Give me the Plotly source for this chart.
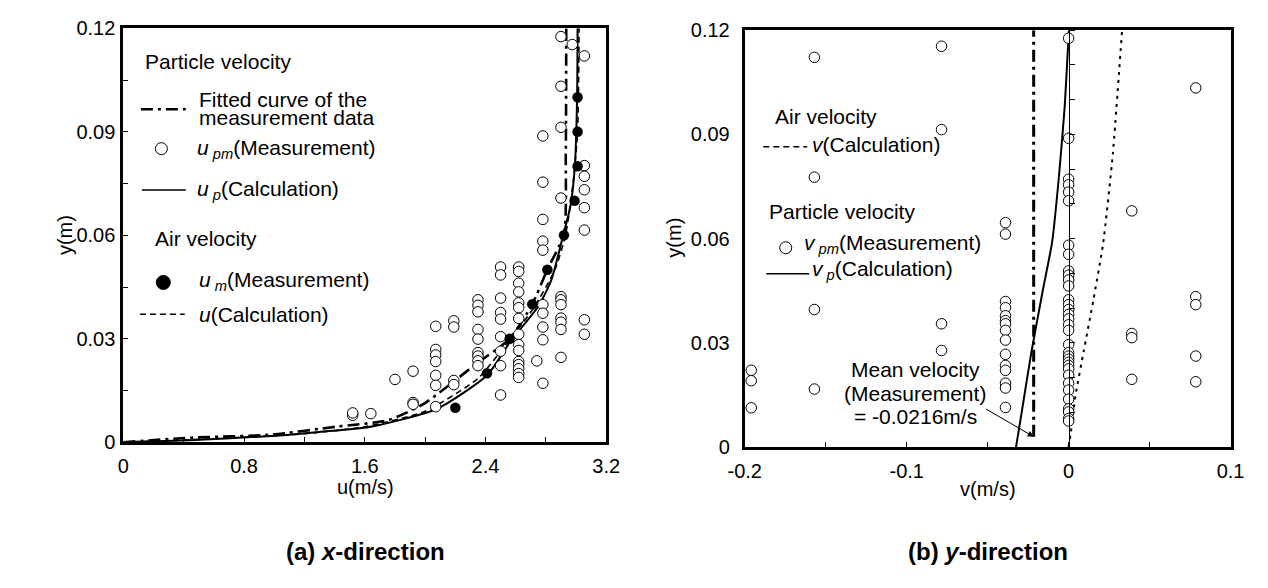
import plotly.graph_objects as go

W, H = 1268, 588

# ---------------- data: (a) x-direction ----------------
# particle velocity measurement u_pm (m/s) and height y (m)
upm_u = [1.52, 1.52, 1.64, 1.80, 1.92, 1.92, 1.92,
         2.07, 2.07, 2.07, 2.07, 2.07, 2.07, 2.07,
         2.19, 2.19, 2.19, 2.19,
         2.35, 2.35, 2.35, 2.35, 2.35, 2.35, 2.35, 2.35, 2.35,
         2.50, 2.50, 2.50, 2.50, 2.50, 2.50, 2.50, 2.50, 2.50,
         2.62, 2.62, 2.62, 2.62, 2.62, 2.62, 2.62, 2.62, 2.62, 2.62, 2.62, 2.62, 2.62, 2.62, 2.62,
         2.74,
         2.78, 2.78, 2.78, 2.78, 2.78, 2.78, 2.78, 2.78, 2.78, 2.78,
         2.90, 2.90, 2.90, 2.90, 2.90, 2.90, 2.90, 2.90, 2.90, 2.90, 2.90,
         2.975,
         3.055, 3.055, 3.055, 3.055, 3.055, 3.055, 3.055, 3.055]
upm_y = [0.0078, 0.0085, 0.0083, 0.0182, 0.0206, 0.0115, 0.0110,
         0.0336, 0.0269, 0.0253, 0.0234, 0.0194, 0.0165, 0.0103,
         0.0352, 0.0334, 0.0179, 0.0167,
         0.0413, 0.0397, 0.0378, 0.0327, 0.0299, 0.0260, 0.0250, 0.0236, 0.0222,
         0.0508, 0.0485, 0.0418, 0.0376, 0.0357, 0.0306, 0.0264, 0.0222, 0.0137,
         0.0508, 0.0495, 0.0461, 0.0436, 0.0404, 0.0390, 0.0359, 0.0313, 0.0283, 0.0266, 0.0234, 0.0225, 0.0213, 0.0199, 0.0188,
         0.0236,
         0.0888, 0.0754, 0.0646, 0.0583, 0.0557, 0.0399, 0.0374, 0.0334, 0.0297, 0.0171,
         0.1176, 0.1032, 0.0913, 0.0708, 0.0422, 0.0413, 0.0399, 0.0360, 0.0348, 0.0327, 0.0246,
         0.1153,
         0.1120, 0.0802, 0.0771, 0.0732, 0.0680, 0.0615, 0.0355, 0.0313]

# air velocity measurement u_m
um_u = [2.20, 2.41, 2.56, 2.71, 2.81, 2.92, 2.99, 3.01, 3.01, 3.01]
um_y = [0.01, 0.02, 0.03, 0.04, 0.05, 0.06, 0.07, 0.08, 0.09, 0.10]

# particle velocity calculation u_p
up_u = [0.0, 0.44, 0.98, 1.30, 1.63, 2.08, 2.41, 2.565, 2.75, 2.835, 2.915, 2.964, 2.992, 3.007, 3.010]
up_y = [0.0, 0.0006, 0.0018, 0.0030, 0.0044, 0.0097, 0.0194, 0.0292, 0.0394, 0.0469, 0.0600, 0.0687, 0.0800, 0.1000, 0.1200]

# air velocity calculation u
ua_u = [0.0, 0.60, 1.20, 1.60, 2.00, 2.35, 2.53, 2.72, 2.86, 2.93, 2.98, 3.01, 3.02]
ua_y = [0.0, 0.0010, 0.0025, 0.0045, 0.0090, 0.0185, 0.0280, 0.0390, 0.0500, 0.0600, 0.0750, 0.0900, 0.1200]

# fitted curve of the measurement data
fit_u = [0.0, 0.44, 0.98, 1.41, 1.755, 1.99, 2.338, 2.558, 2.709, 2.809, 2.920, 2.932, 2.935]
fit_y = [0.0, 0.0013, 0.0022, 0.0045, 0.0064, 0.0111, 0.0227, 0.0299, 0.0399, 0.0500, 0.0604, 0.0836, 0.1200]

# ---------------- data: (b) y-direction ----------------
vpm_v = ([-0.196] * 3 + [-0.157] * 4 + [-0.0785] * 4 + [-0.039] * 15 +
         [0.0] * 34 + [0.039] * 4 + [0.0785] * 5)
vpm_y = [0.0221, 0.0191, 0.0113,
         0.1122, 0.0777, 0.0396, 0.0167,
         0.1154, 0.0914, 0.0355, 0.0278,
         0.0646, 0.0613, 0.0419, 0.0401, 0.0378, 0.0364, 0.0355, 0.0336, 0.0308, 0.0267, 0.0235, 0.0221, 0.0184, 0.0170, 0.0114,
         0.1177, 0.0889, 0.0771, 0.0755, 0.0734, 0.0709, 0.0581, 0.0555, 0.0507, 0.0495, 0.0481, 0.0464, 0.0424, 0.0410,
         0.0396, 0.0382, 0.0369, 0.0352, 0.0336, 0.0295, 0.0272, 0.0262, 0.0253, 0.0244, 0.0235, 0.0225, 0.0207, 0.0184,
         0.0164, 0.0138, 0.0110, 0.0101, 0.0082, 0.0075,
         0.0680, 0.0327, 0.0315, 0.0195,
         0.1034, 0.0433, 0.0410, 0.0262, 0.0188]

# particle velocity calculation v_p
vp_v = [-0.0325, -0.0290, -0.0229, -0.0160, -0.0102, -0.0058, -0.0024, 0.0, 0.0002]
vp_y = [0.0, 0.0100, 0.0276, 0.0450, 0.0590, 0.0789, 0.0983, 0.1186, 0.1200]

# air velocity calculation v
va_v = [0.0, 0.0012, 0.0042, 0.0093, 0.0153, 0.0213, 0.0273, 0.0330]
va_y = [0.0, 0.0036, 0.0147, 0.0276, 0.0424, 0.0586, 0.0844, 0.1200]

# mean measured particle velocity
mean_v = -0.0216
mean_y = [0.003, 0.12]

# tick labels
xa_ticks = [0, 0.8, 1.6, 2.4, 3.2]
xa_text = ["0", "0.8", "1.6", "2.4", "3.2"]
xb_ticks = [-0.2, -0.1, 0, 0.1]
xb_text = ["-0.2", "-0.1", "0", "0.1"]
y_ticks = [0, 0.03, 0.06, 0.09, 0.12]
y_text = ["0", "0.03", "0.06", "0.09", "0.12"]

FONT = "Liberation Sans, Arial, sans-serif"
DASHDOT = "12px,5px,3px,5px"
DASH = "6px,4px"
DOT = "3px,5px"


def X(px):
    return px / W


def Y(py):
    return 1 - py / H


# plot areas (pixels)
A_L, A_R, A_T, A_B = 109, 604, 18, 448
B_L, B_R, B_T, B_B = 746, 1244, 20, 453

fig = go.Figure()

# ---- panel (a) ----
fig.add_trace(go.Scatter(x=fit_u, y=fit_y, mode="lines", line=dict(color="black", width=2.6, dash=DASHDOT, shape="spline", smoothing=0.6),
                         xaxis="x", yaxis="y", hoverinfo="skip"))
fig.add_trace(go.Scatter(x=ua_u, y=ua_y, mode="lines", line=dict(color="black", width=1.6, dash=DASH, shape="spline", smoothing=0.6),
                         xaxis="x", yaxis="y", hoverinfo="skip"))
fig.add_trace(go.Scatter(x=up_u, y=up_y, mode="lines", line=dict(color="black", width=2, shape="spline", smoothing=0.6),
                         xaxis="x", yaxis="y", hoverinfo="skip"))
fig.add_trace(go.Scatter(x=upm_u, y=upm_y, mode="markers",
                         marker=dict(symbol="circle", size=10.5, color="white", line=dict(width=1, color="black")),
                         xaxis="x", yaxis="y"))
fig.add_trace(go.Scatter(x=um_u, y=um_y, mode="markers",
                         marker=dict(symbol="circle", size=10.5, color="black"),
                         xaxis="x", yaxis="y"))

# ---- panel (b) ----
fig.add_trace(go.Scatter(x=[mean_v, mean_v], y=mean_y, mode="lines", line=dict(color="black", width=3, dash=DASHDOT),
                         xaxis="x2", yaxis="y2", hoverinfo="skip"))
fig.add_trace(go.Scatter(x=va_v, y=va_y, mode="lines", line=dict(color="black", width=2, dash=DOT, shape="spline", smoothing=0.5),
                         xaxis="x2", yaxis="y2", hoverinfo="skip"))
fig.add_trace(go.Scatter(x=vp_v, y=vp_y, mode="lines", line=dict(color="black", width=2, shape="spline", smoothing=0.5),
                         xaxis="x2", yaxis="y2", hoverinfo="skip"))
fig.add_trace(go.Scatter(x=vpm_v, y=vpm_y, mode="markers",
                         marker=dict(symbol="circle", size=10.5, color="white", line=dict(width=1, color="black")),
                         xaxis="x2", yaxis="y2"))
# dummy trace so the v = 0 axis is drawn
fig.add_trace(go.Scatter(x=[0], y=[0], mode="markers", marker=dict(opacity=0), xaxis="x2", yaxis="y3",
                         hoverinfo="skip"))

axis_common = dict(showline=True, linecolor="black", linewidth=3, mirror=True, showgrid=False, zeroline=False,
                   tickfont=dict(family=FONT, size=20, color="black"), ticks="inside", ticklen=5, tickcolor="black",
                   tickwidth=1)

fig.update_layout(
    width=W, height=H, margin=dict(l=0, r=0, t=0, b=0),
    paper_bgcolor="white", plot_bgcolor="white", showlegend=False,
    font=dict(family=FONT, color="black"),
    xaxis=dict(domain=[X(A_L), X(A_R)], range=[0, 3.2], anchor="y", tickvals=xa_ticks, ticktext=xa_text,
               minor=dict(dtick=0.4, ticks="inside", ticklen=5, tickcolor="black", tickwidth=1),
               ticklabelstandoff=4, **axis_common),
    yaxis=dict(domain=[Y(A_B), Y(A_T)], range=[0, 0.12], anchor="x", tickvals=y_ticks, ticktext=y_text,
               minor=dict(dtick=0.015, ticks="inside", ticklen=5, tickcolor="black", tickwidth=1),
               ticklabelstandoff=1, **axis_common),
    xaxis2=dict(domain=[X(B_L), X(B_R)], range=[-0.2, 0.1], anchor="y2", tickvals=xb_ticks, ticktext=xb_text,
                minor=dict(tickvals=[-0.15, -0.05, 0.05], ticks="inside", ticklen=5, tickcolor="black", tickwidth=1),
                ticklabelstandoff=4, **axis_common),
    yaxis2=dict(domain=[Y(B_B), Y(B_T)], range=[0, 0.12], anchor="x2", tickvals=y_ticks, ticktext=y_text,
                ticklabelstandoff=8, **{**axis_common, "ticks": ""}),
    yaxis3=dict(overlaying="y2", anchor="free", position=X(B_L) + (0 - (-0.2)) / 0.3 * (X(B_R) - X(B_L)),
                side="right", range=[0, 0.12], dtick=0.01, ticks="outside", ticklen=5, tickcolor="black", tickwidth=1,
                showticklabels=False, showline=True, linecolor="black", linewidth=1, showgrid=False, zeroline=False),
)

TXT = 21
ann = []
shapes = []


def text(px, py, s, size=TXT, xanchor="left", **kw):
    ann.append(dict(x=X(px), y=Y(py), xref="paper", yref="paper", text=s, showarrow=False, xanchor=xanchor,
                    yanchor="middle", font=dict(family=FONT, size=size, color="black"), **kw))


def seg(x0, x1, yy, dash=None, width=2):
    shapes.append(dict(type="line", xref="paper", yref="paper", x0=X(x0), x1=X(x1), y0=Y(yy), y1=Y(yy),
                       line=dict(color="black", width=width, dash=dash)))


def dot(cx, cy, r, filled):
    shapes.append(dict(type="circle", xref="paper", yref="paper", xsizemode="pixel", ysizemode="pixel",
                       xanchor=X(cx), yanchor=Y(cy), x0=-r, x1=r, y0=-r, y1=r,
                       line=dict(color="black", width=1), fillcolor="black" if filled else "white"))


# legend (a)
text(129, 52, "Particle velocity")
seg(127, 173, 102, dash=DASHDOT, width=2.6)
text(185, 92, "Fitted curve of the")
text(185, 111, "measurement data")
dot(148, 143, 6, False)
text(182, 143, "<i>u</i><sub><i> pm</i></sub>(Measurement)")
seg(128, 173, 186, width=1.5)
text(182, 186, "<i>u</i><sub><i> p</i></sub>(Calculation)")
text(139, 236, "Air velocity")
dot(150, 282, 7, True)
text(184, 281, "<i>u</i><sub><i> m</i></sub>(Measurement)")
seg(126, 172, 315, dash=DASH, width=1.6)
text(184, 315, "<i>u</i>(Calculation)")

# legend (b)
text(775, 110, "Air velocity")
seg(765, 810, 141, dash=DASH, width=1.6)
text(813, 139, "<i>v</i>(Calculation)")
text(769, 208, "Particle velocity")
dot(788, 246, 6, False)
text(805, 242, "<i>v</i><sub><i> pm</i></sub>(Measurement)")
seg(768, 812, 273, width=1.5)
text(813, 269, "<i>v</i><sub><i> p</i></sub>(Calculation)")

# mean velocity annotation
text(921, 372, "Mean velocity", xanchor="center")
text(921, 397, "(Measurement)", xanchor="center")
text(921, 421, "= -0.0216m/s", xanchor="center")
ann.append(dict(x=mean_v, y=mean_y[0], xref="x2", yref="y2", ax=-0.052, ay=0.0112, axref="x2", ayref="y2",
                text="", showarrow=True, arrowhead=2, arrowsize=1.2, arrowwidth=1, arrowcolor="black", standoff=0))

# axis titles
text(50, 233, "y(m)", size=20, xanchor="center", textangle=-90)
text(357, 494, "u(m/s)", size=20, xanchor="center")
text(674, 236, "y(m)", size=20, xanchor="center", textangle=-90)
text(995, 497, "v(m/s)", size=20, xanchor="center")

# panel titles
text(357, 562, "<b>(a) <i>x</i>-direction</b>", size=24, xanchor="center")
text(995, 562, "<b>(b) <i>y</i>-direction</b>", size=24, xanchor="center")

fig.update_layout(annotations=ann, shapes=shapes)
fig.write_html("out.html")
